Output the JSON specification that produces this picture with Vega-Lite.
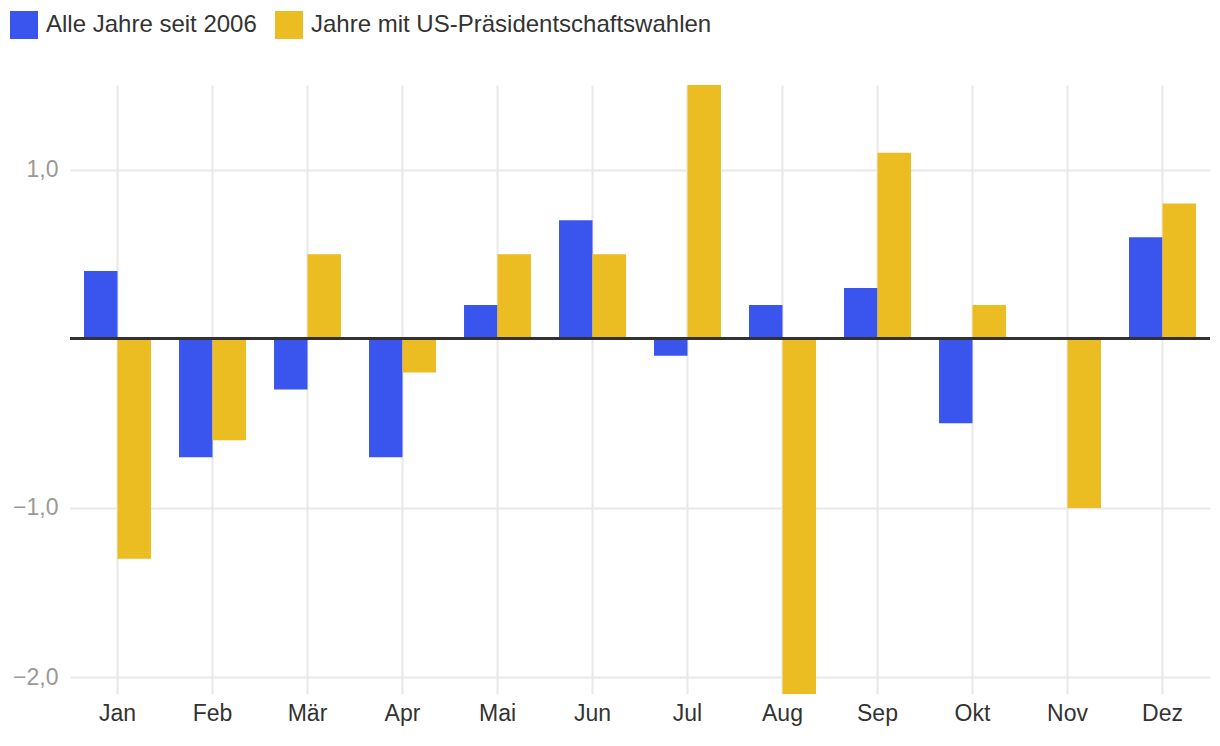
{
  "$schema": "https://vega.github.io/schema/vega-lite/v6.json",
  "width": 1140,
  "height": 609,
  "autosize": "none",
  "padding": {"left": 70, "top": 85, "right": 10, "bottom": 52},
  "background": "white",
  "config": {
    "view": {"stroke": null},
    "font": "Liberation Sans",
    "axis": {"labelFont": "Liberation Sans", "titleFont": "Liberation Sans"},
    "legend": {"labelFont": "Liberation Sans"}
  },
  "data": {
    "values": [
      {"monat": "Jan", "serie": "Alle Jahre seit 2006", "wert": 0.4},
      {"monat": "Jan", "serie": "Jahre mit US-Präsidentschaftswahlen", "wert": -1.3},
      {"monat": "Feb", "serie": "Alle Jahre seit 2006", "wert": -0.7},
      {"monat": "Feb", "serie": "Jahre mit US-Präsidentschaftswahlen", "wert": -0.6},
      {"monat": "Mär", "serie": "Alle Jahre seit 2006", "wert": -0.3},
      {"monat": "Mär", "serie": "Jahre mit US-Präsidentschaftswahlen", "wert": 0.5},
      {"monat": "Apr", "serie": "Alle Jahre seit 2006", "wert": -0.7},
      {"monat": "Apr", "serie": "Jahre mit US-Präsidentschaftswahlen", "wert": -0.2},
      {"monat": "Mai", "serie": "Alle Jahre seit 2006", "wert": 0.2},
      {"monat": "Mai", "serie": "Jahre mit US-Präsidentschaftswahlen", "wert": 0.5},
      {"monat": "Jun", "serie": "Alle Jahre seit 2006", "wert": 0.7},
      {"monat": "Jun", "serie": "Jahre mit US-Präsidentschaftswahlen", "wert": 0.5},
      {"monat": "Jul", "serie": "Alle Jahre seit 2006", "wert": -0.1},
      {"monat": "Jul", "serie": "Jahre mit US-Präsidentschaftswahlen", "wert": 1.5},
      {"monat": "Aug", "serie": "Alle Jahre seit 2006", "wert": 0.2},
      {"monat": "Aug", "serie": "Jahre mit US-Präsidentschaftswahlen", "wert": -2.1},
      {"monat": "Sep", "serie": "Alle Jahre seit 2006", "wert": 0.3},
      {"monat": "Sep", "serie": "Jahre mit US-Präsidentschaftswahlen", "wert": 1.1},
      {"monat": "Okt", "serie": "Alle Jahre seit 2006", "wert": -0.5},
      {"monat": "Okt", "serie": "Jahre mit US-Präsidentschaftswahlen", "wert": 0.2},
      {"monat": "Nov", "serie": "Alle Jahre seit 2006", "wert": 0.0},
      {"monat": "Nov", "serie": "Jahre mit US-Präsidentschaftswahlen", "wert": -1.0},
      {"monat": "Dez", "serie": "Alle Jahre seit 2006", "wert": 0.6},
      {"monat": "Dez", "serie": "Jahre mit US-Präsidentschaftswahlen", "wert": 0.8}
    ]
  },
  "layer": [
    {
      "mark": {"type": "bar"},
      "encoding": {
        "x": {
          "field": "monat",
          "type": "nominal",
          "sort": ["Jan", "Feb", "Mär", "Apr", "Mai", "Jun", "Jul", "Aug", "Sep", "Okt", "Nov", "Dez"],
          "scale": {"paddingInner": 0.295, "paddingOuter": 0.1475},
          "axis": {
            "title": null,
            "labelAngle": 0,
            "labelFontSize": 23,
            "labelColor": "#333333",
            "labelPadding": 8,
            "ticks": false,
            "domain": false,
            "grid": true,
            "gridColor": "#e8e8e8",
            "gridWidth": 2,
            "bandPosition": 0.5
          }
        },
        "xOffset": {
          "field": "serie",
          "type": "nominal",
          "sort": ["Alle Jahre seit 2006", "Jahre mit US-Präsidentschaftswahlen"],
          "scale": {"paddingInner": 0, "paddingOuter": 0}
        },
        "y": {
          "field": "wert",
          "type": "quantitative",
          "scale": {"domain": [-2.1, 1.5], "nice": false, "zero": false},
          "axis": {
            "title": null,
            "values": [-2, -1, 1],
            "labelExpr": "replace(format(datum.value, '.1f'), '.', ',')",
            "labelFontSize": 23,
            "labelColor": "#999999",
            "labelPadding": 12,
            "ticks": false,
            "domain": false,
            "grid": true,
            "gridColor": "#e8e8e8",
            "gridWidth": 2
          }
        },
        "color": {
          "field": "serie",
          "type": "nominal",
          "sort": ["Alle Jahre seit 2006", "Jahre mit US-Präsidentschaftswahlen"],
          "scale": {"range": ["#3a55ee", "#ebbd22"]},
          "legend": {
            "title": null,
            "orient": "none",
            "legendX": -60,
            "legendY": -74,
            "direction": "horizontal",
            "symbolType": "square",
            "symbolSize": 784,
            "symbolStrokeWidth": 0,
            "symbolOpacity": 1,
            "labelFontSize": 24,
            "labelColor": "#333333",
            "labelOffset": 8,
            "columnPadding": 18,
            "labelLimit": 600
          }
        }
      }
    },
    {
      "mark": {"type": "rule", "color": "#333333", "strokeWidth": 2},
      "encoding": {"y": {"datum": 0}}
    }
  ]
}
